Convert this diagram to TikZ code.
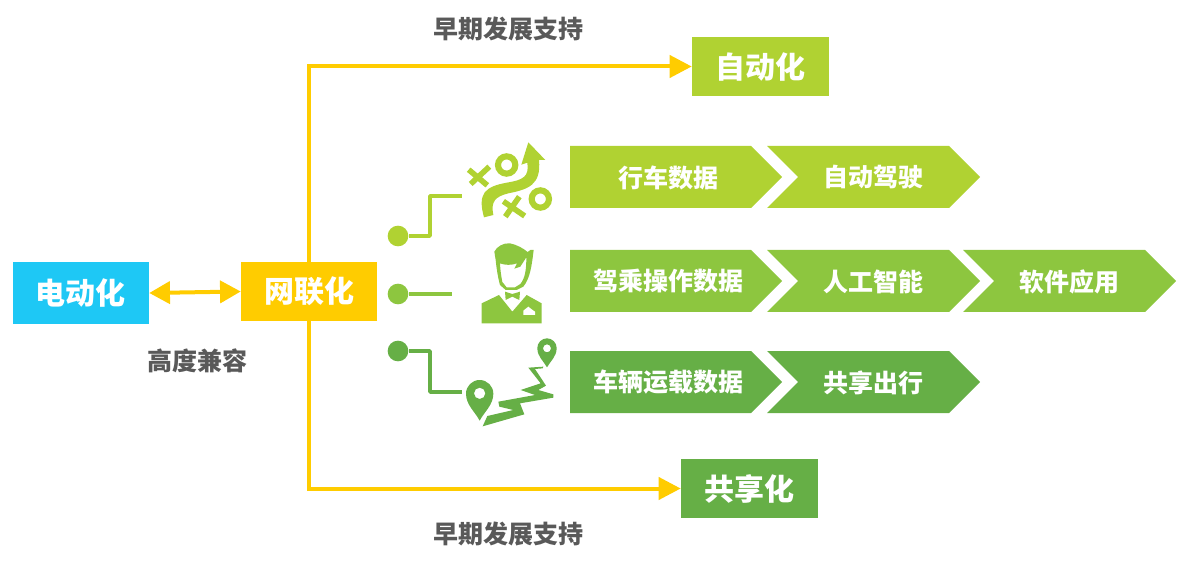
\documentclass[tikz,border=0pt]{standalone}
\usepackage{fontspec}
\setmainfont{Noto Sans CJK SC}
\usetikzlibrary{arrows.meta}
\definecolor{lime}{HTML}{B0D232}
\definecolor{midg}{HTML}{8DC63F}
\definecolor{darkg}{HTML}{66AF46}
\definecolor{yel}{HTML}{FFCC00}
\definecolor{sky}{HTML}{1EC8F5}
\definecolor{gtext}{HTML}{595959}
\newcommand{\chevA}[4]{% x, y-top, colour, text (flat left edge)
  \fill[#3] (#1,#2) -- ++(181,0) -- ++(31,31) -- ++(-31,31) -- ++(-181,0) -- cycle;
  \node[chevtext] (#4) at (#1+98,#2+31.5) {#4};}
\newcommand{\chevB}[4]{% x, y-top, colour, text (notched left edge)
  \fill[#3] (#1,#2) -- ++(182,0) -- ++(31,31) -- ++(-31,31) -- ++(-182,0) -- ++(31,-31) -- cycle;
  \node[chevtext] (#4) at (#1+106,#2+31.5) {#4};}
\tikzset{
  chevtext/.style={text=white,font=\fontsize{18.75pt}{20pt}\selectfont\bfseries,inner sep=0pt},
  boxnode/.style={fill=#1,text=white,font=\fontsize{22.5pt}{24pt}\selectfont\bfseries,inner sep=0pt},
  lbl/.style={text=gtext,font=\fontsize{18.75pt}{20pt}\selectfont\bfseries,inner sep=0pt},
  dot/.style={circle,fill=#1,inner sep=0pt,minimum size=15.5pt},
  wire/.style={draw=#1,line width=2.7pt,line join=round},
  yline/.style={draw=yel,line width=3pt,line join=miter,-{Triangle[length=16.5pt,width=16.5pt]}},
}
\begin{document}
\begin{tikzpicture}[x=0.75pt,y=-0.75pt]
\useasboundingbox (0,0) rectangle (1190,563);
% boxes
\node[boxnode=sky,minimum width=102pt,minimum height=46.5pt] (ev) at (81,293) {电动化};
\node[boxnode=yel,minimum width=102pt,minimum height=44.5pt] (net) at (309,291.5) {网联化};
\node[boxnode=lime,minimum width=102.75pt,minimum height=44.5pt] (auto) at (760.5,66.5) {自动化};
\node[boxnode=darkg,minimum width=102.75pt,minimum height=44.5pt] (share) at (749.5,488.5) {共享化};
% labels
\node[lbl] (l1) at (508,29) {早期发展支持};
\node[lbl] (l2) at (508,534) {早期发展支持};
\node[lbl] (l3) at (197,361) {高度兼容};
% yellow connectors
\draw[yline] (net.north) |- (auto.west);
\draw[yline] (net.south) |- (share.west);
\draw[draw=yel,line width=3pt,{Triangle[length=15.5pt,width=16.5pt]}-{Triangle[length=15.5pt,width=16.5pt]}] (ev.east) -- (net.west);
% dots and wires
\node[dot=lime] (d1) at (398,236) {};
\node[dot=midg] (d2) at (398,294) {};
\node[dot=darkg] (d3) at (398,351) {};
\coordinate (e1) at (462,196);
\coordinate (e2) at (452,294);
\coordinate (e3) at (462,392);
\coordinate (k1) at (430,236);
\coordinate (k3) at (430,351);
\draw[wire=lime] (d1) -- (k1) |- (e1);
\draw[wire=midg] (d2) -- (e2);
\draw[wire=darkg] (d3) -- (k3) |- (e3);
% chevrons
\chevA{570}{146}{lime}{行车数据}
\chevB{767}{146}{lime}{自动驾驶}
\chevA{570}{250}{midg}{驾乘操作数据}
\chevB{767}{250}{midg}{人工智能}
\chevB{963}{250}{midg}{软件应用}
\chevA{570}{351}{darkg}{车辆运载数据}
\chevB{767}{351}{darkg}{共享出行}
% icon 1
\begin{scope}[shift={(380,130)},x=0.25pt,y=-0.25pt]
\fill[lime] (312,262) -- (340,255) .. controls (332,215) and (345,200) .. (385,190)
  .. controls (445,178) and (484,165) .. (477,90) -- (496,90) -- (445,37) -- (424,104) -- (442,98)
  .. controls (448,140) and (430,150) .. (380,158) .. controls (315,170) and (292,190) .. (312,262) -- cycle;
\draw[lime,line width=4.6pt] (380,105) circle (26);
\draw[lime,line width=4.6pt] (481,207) circle (26);
\draw[lime,line width=4.2pt] (266,119) -- (322,166) (328,110) -- (272,162);
\draw[lime,line width=4.2pt] (370,214) -- (434,258) (418,200) -- (376,260);
\end{scope}
% icon 2
\begin{scope}[shift={(475,240)},x=0.25pt,y=-0.25pt]
\fill[midg,even odd rule] (58,35) .. controls (65,20) and (85,8) .. (105,10) .. controls (125,14) and (145,25) .. (158,36) -- (166,30) -- (176,30)
  .. controls (170,80) and (165,115) .. (145,140) -- (125,150) -- (92,150) -- (75,135) .. controls (68,110) and (64,80) .. (62,60) -- cycle
  (75,70) .. controls (90,76) and (110,76) .. (126,70) -- (118,86) -- (136,80) -- (154,52)
  .. controls (154,90) and (150,115) .. (136,132) -- (120,142) -- (95,142) -- (82,126) .. controls (78,105) and (76,90) .. (75,70) -- cycle;
\fill[midg] (20,190) -- (72,165) -- (112,215) -- (155,165) -- (200,190) -- (200,250) -- (20,250) -- cycle;
\fill[midg] (90,155) -- (112,162) -- (135,155) -- (133,180) -- (112,170) -- (92,180) -- cycle;
\fill[white] (145,225) -- (145,212) -- (160,200) -- (170,208) -- (180,215) -- (180,225) -- cycle;
\end{scope}
% icon 3
\begin{scope}[shift={(380,330)},x=0.25pt,y=-0.25pt]
\fill[darkg,even odd rule] (299,272) .. controls (285,245) and (258,225) .. (258,191) arc[start angle=180,end angle=360,radius=41]
  .. controls (340,225) and (313,245) .. (299,272) -- cycle (299,190) circle (17);
\fill[darkg,even odd rule] (501,112) .. controls (490,92) and (472,80) .. (472,54) arc[start angle=180,end angle=360,radius=29]
  .. controls (530,80) and (512,92) .. (501,112) -- cycle (501,55) circle (12);
\end{scope}
\begin{scope}[shift={(470,355)},x=0.25pt,y=-0.25pt]
\fill[darkg] (38,214) -- (52,183) -- (130,165) -- (88,155) -- (85,140) -- (195,120) -- (152,105) -- (212,85) -- (175,38) -- (220,35) -- (218,40) -- (195,42) -- (228,92) -- (205,105) -- (250,118) -- (250,128) -- (150,145) -- (163,178) -- cycle;
\end{scope}
\end{tikzpicture}
\end{document}
